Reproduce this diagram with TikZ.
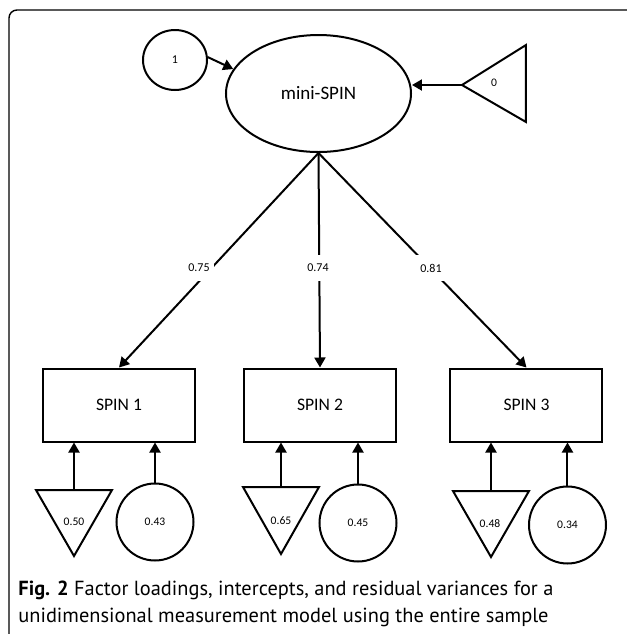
\documentclass[tikz,border=0pt]{standalone}
\usepackage{fontspec}
\setmainfont{Carlito}
\newfontfamily\capfont{PT Sans}
\usetikzlibrary{shapes.geometric,arrows.meta}

\begin{document}
\begin{tikzpicture}[x=0.5pt,y=-0.5pt,
  arr/.style={-{Triangle[length=5pt,width=5.5pt]},line width=1pt},
  shp/.style={draw,line width=1pt},
  itembox/.style={shp,rectangle,minimum width=76pt,minimum height=36.5pt,font=\fontsize{8.8}{10}\selectfont},
  resid/.style={shp,circle,minimum size=38.5pt,inner sep=0pt,font=\fontsize{5.8}{7}\selectfont},
  small/.style={inner sep=0pt,font=\fontsize{5.8}{7}\selectfont},
  loading/.style={fill=white,inner sep=0pt,minimum width=15pt,minimum height=13pt,font=\fontsize{6}{7}\selectfont}]
\useasboundingbox (0,0) rectangle (627,634);
\draw[line width=0.7pt,rounded corners=4pt] (9,10) rectangle (645,645);

\node[shp,ellipse,minimum width=92.5pt,minimum height=58.5pt,font=\fontsize{9.5}{11}\selectfont] (lat) at (318.5,93.5) {mini-SPIN};
\node[shp,ellipse,minimum width=32pt,minimum height=30pt,font=\fontsize{6}{7}\selectfont] (var) at (175,60) {1};
\coordinate (i0a) at (462,85);
\coordinate (i0b) at (526,45);
\coordinate (i0c) at (526,122);
\draw[line width=1pt] (i0a)--(i0b)--(i0c)--cycle;
\node[small] (i0) at (494,83) {0};
\draw[arr] (var.5) -- (lat.164);
\draw[arr] (i0a) -- (i0a -| lat.east);

\node[itembox] (s1) at (119,405) {SPIN 1};
\node[itembox] (s2) at (320,405) {SPIN 2};
\node[itembox] (s3) at (526.5,405) {SPIN 3};
\draw[arr] (lat.south) -- (s1.north);
\draw[arr] (lat.south) -- (s2.north);
\draw[arr] (lat.south) -- (s3.north);
\node[loading] (l1) at (199,268) {0.75};
\node[loading] (l2) at (318,268) {0.74};
\node[loading] (l3) at (431,268) {0.81};

\coordinate (t1a) at (36,490);
\coordinate (t1b) at (112,490);
\coordinate (t1c) at (74,556);
\coordinate (t1top) at (74,490);
\draw[line width=1pt] (t1a)--(t1b)--(t1c)--cycle;
\node[small] (t1) at (74,522) {0.50};
\node[resid] (e1) at (155,522) {0.43};
\draw[arr] (t1top) -- (t1top |- s1.south);
\draw[arr] (e1.north) -- (e1.north |- s1.south);

\coordinate (t2a) at (243,487);
\coordinate (t2b) at (319,487);
\coordinate (t2c) at (281,554);
\coordinate (t2top) at (281,487);
\draw[line width=1pt] (t2a)--(t2b)--(t2c)--cycle;
\node[small] (t2) at (281,521) {0.65};
\node[resid] (e2) at (358,523) {0.45};
\draw[arr] (t2top) -- (t2top |- s2.south);
\draw[arr] (e2.north) -- (e2.north |- s2.south);

\coordinate (t3a) at (453,491);
\coordinate (t3b) at (529,491);
\coordinate (t3c) at (491,557);
\coordinate (t3top) at (491,491);
\draw[line width=1pt] (t3a)--(t3b)--(t3c)--cycle;
\node[small] (t3) at (490,524) {0.48};
\node[resid] (e3) at (567.5,525) {0.34};
\draw[arr] (t3top) -- (t3top |- s3.south);
\draw[arr] (e3.north) -- (e3.north |- s3.south);

\node[anchor=west,inner sep=0pt,align=left,font=\capfont\fontsize{10.2}{13.5}\selectfont] (cap) at (18,603.5)
  {\textbf{Fig. 2} Factor loadings, intercepts, and residual variances for a\\
   unidimensional measurement model using the entire sample};
\end{tikzpicture}
\end{document}
